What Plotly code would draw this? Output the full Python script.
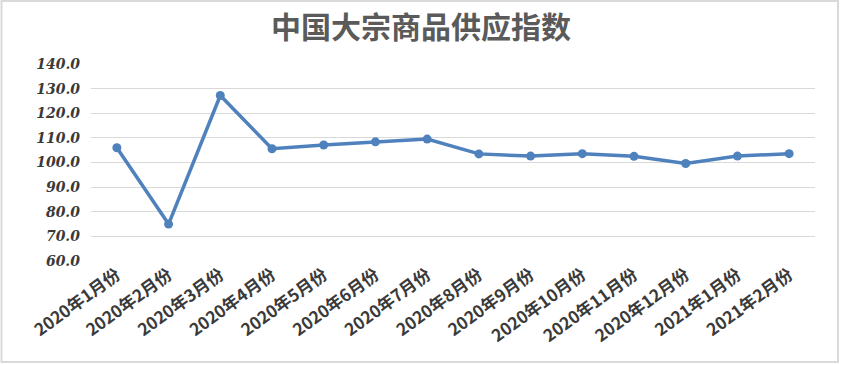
import plotly.graph_objects as go

categories = ["2020年1月份", "2020年2月份", "2020年3月份", "2020年4月份", "2020年5月份",
              "2020年6月份", "2020年7月份", "2020年8月份", "2020年9月份", "2020年10月份",
              "2020年11月份", "2020年12月份", "2021年1月份", "2021年2月份"]
values = [106.0, 75.0, 127.2, 105.6, 107.1, 108.4, 109.5, 103.5, 102.6, 103.6,
          102.5, 99.6, 102.6, 103.6]
y_ticks = [60, 70, 80, 90, 100, 110, 120, 130, 140]
y_tick_labels = ["60.0", "70.0", "80.0", "90.0", "100.0", "110.0", "120.0", "130.0", "140.0"]

W, H = 843, 365
L, R, T, B = 91, 28, 64, 104
pw, ph = W - L - R, H - T - B

def px_x(p):
    return (p - L) / pw

def px_y(p):
    return (H - B - p) / ph

fig = go.Figure()
fig.add_trace(go.Scatter(
    x=categories, y=values, mode="lines+markers",
    line=dict(color="#4F81BD", width=3.5),
    marker=dict(color="#4F81BD", size=9),
    showlegend=False,
))

fig.update_layout(
    width=W, height=H,
    margin=dict(l=L, r=R, t=T, b=B, autoexpand=False),
    paper_bgcolor="white", plot_bgcolor="white",
    title=dict(text="<b>中国大宗商品供应指数</b>", x=421 / W, xref="container", xanchor="center",
               y=1 - 27 / H, yanchor="middle",
               font=dict(family="Noto Sans CJK SC", size=30, color="#5a5a5a")),
    xaxis=dict(type="category", range=[-0.5, 13.5], showgrid=False, showline=False,
               ticks="", tickangle=-36, automargin=False,
               tickfont=dict(family="Noto Sans CJK SC", size=17, color="#3a3a3a", weight="bold")),
    yaxis=dict(range=[60, 140], tickvals=y_ticks, ticktext=y_tick_labels, automargin=False,
               showgrid=True, gridcolor="#d9d9d9", gridwidth=1, zeroline=False,
               showline=False, ticks="", ticklabelstandoff=10,
               tickfont=dict(family="DejaVu Serif", size=14, color="#3a3a3a",
                             weight="bold", style="italic")),
    shapes=[dict(type="rect", xref="paper", yref="paper",
                 x0=px_x(1.5), x1=px_x(838), y0=px_y(362), y1=px_y(1),
                 line=dict(color="#d9d9d9", width=2), fillcolor="rgba(0,0,0,0)", layer="below")],
)

fig.write_html("out.html", config={"displayModeBar": False},
               post_script="document.body.style.margin='0';document.body.style.overflow='hidden';")
